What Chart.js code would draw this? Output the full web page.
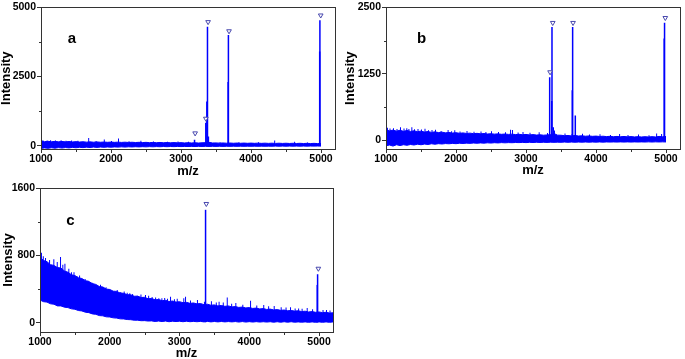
<!DOCTYPE html>
<html><head><meta charset="utf-8">
<script src="https://cdn.jsdelivr.net/npm/chart.js@4.4.0/dist/chart.umd.min.js"></script>
<style>
html,body{margin:0;padding:0;background:#fff;}
#wrap{position:relative;width:685px;height:359px;overflow:hidden;background:#fff;}
canvas{position:absolute;}
</style></head><body>
<div id="wrap">
<canvas id="ca" width="340" height="180" style="left:0;top:0"></canvas>
<canvas id="cb" width="345" height="180" style="left:340px;top:0"></canvas>
<canvas id="cc" width="340" height="179" style="left:0;top:180px"></canvas>
</div>
<script>
// ---- m/z sampling of the noise band ----
const mzAB = [1000,1050,1100,1150,1200,1250,1300,1350,1400,1450,
  1500,1550,1600,1650,1700,1750,1800,1850,1900,1950,
  2000,2050,2100,2150,2200,2250,2300,2350,2400,2450,
  2500,2550,2600,2650,2700,2750,2800,2850,2900,2950,
  3000,3050,3100,3150,3200,3250,3300,3350,3400,3450,
  3500,3550,3600,3650,3700,3750,3800,3850,3900,3950,
  4000,4050,4100,4150,4200,4250,4300,4350,4400,4450,
  4500,4550,4600,4650,4700,4750,4800,4850,4900,4950,
  5000];
const mzC = [1000,1050,1100,1150,1200,1250,1300,1350,1400,1450,
  1500,1550,1600,1650,1700,1750,1800,1850,1900,1950,
  2000,2050,2100,2150,2200,2250,2300,2350,2400,2450,
  2500,2550,2600,2650,2700,2750,2800,2850,2900,2950,
  3000,3050,3100,3150,3200,3250,3300,3350,3400,3450,
  3500,3550,3600,3650,3700,3750,3800,3850,3900,3950,
  4000,4050,4100,4150,4200,4250,4300,4350,4400,4450,
  4500,4550,4600,4650,4700,4750,4800,4850,4900,4950,
  5000,5050,5100,5150,5200];

// ---- panel a ----
const upperA = [160,145,158,142,155,140,152,138,150,136,
  146,132,142,128,138,126,135,124,132,122,
  130,120,128,118,126,116,124,114,122,112,
  120,110,118,108,116,106,114,104,112,102,
  110,100,108,98,106,96,104,110,120,98,
  100,92,98,90,96,88,95,87,94,86,
  93,85,92,84,91,83,90,82,89,81,
  88,80,87,79,86,78,85,77,84,76,
  80];
const lowerA = [-100,-80,-95,-75,-90,-70,-85,-68,-80,-62,
  -75,-60,-70,-55,-66,-52,-62,-50,-58,-48,
  -55,-45,-52,-42,-50,-40,-46,-38,-44,-36,
  -42,-34,-40,-32,-38,-30,-36,-30,-34,-28,
  -32,-28,-30,-26,-30,-25,-28,-24,-28,-24,
  -26,-22,-26,-22,-25,-20,-24,-20,-23,-20,
  -22,-18,-22,-18,-21,-18,-20,-16,-20,-16,
  -19,-15,-18,-15,-18,-14,-17,-14,-16,-13,
  -15];
const spikeMzA  = [1020,1080,1130,1200,1280,1350,1430,1520,1674,1780,1897,2000,2100,2250,2420,2600,2800,2950,3100,3550,3820,4100,4331,4616,4800];
const spikeTopA = [200,190,200,185,195,180,185,175,280,170,220,165,260,160,175,150,145,150,140,125,120,120,190,140,115];
const peakMzA  = [3204, 3365, 3380, 3389, 3402, 3684, 3688, 4992, 4995];
const peakIntA = [210, 830, 1600, 4300, 330, 2300, 4000, 3400, 4530];
const markMzA  = [3202, 3355, 3387, 3686, 4996];
const markIntA = [450, 980, 4470, 4140, 4710];

// ---- panel b ----
const upperB = [200,180,195,175,192,172,188,170,182,165,
  175,158,168,152,162,148,156,143,150,140,
  146,135,142,132,138,128,134,125,130,122,
  127,119,124,116,121,114,119,111,116,108,
  113,105,110,102,107,99,104,110,130,100,
  98,90,94,86,95,84,88,80,85,78,
  82,75,80,73,78,71,76,70,75,68,
  73,67,72,66,71,66,72,67,76,70,
  75];
const lowerB = [-100,-85,-105,-80,-95,-80,-90,-75,-85,-70,
  -80,-68,-75,-62,-70,-60,-66,-58,-62,-55,
  -60,-52,-56,-50,-54,-48,-52,-46,-50,-44,
  -48,-42,-46,-40,-44,-40,-42,-38,-40,-36,
  -40,-35,-38,-34,-37,-33,-36,-32,-35,-32,
  -34,-30,-34,-30,-33,-30,-32,-29,-32,-29,
  -31,-28,-31,-28,-30,-28,-30,-27,-30,-27,
  -30,-27,-29,-27,-29,-26,-29,-26,-28,-26,
  -28];
const spikeMzB  = [1014,1050,1100,1150,1200,1250,1290,1320,1362,1400,
  1450,1500,1550,1600,1650,1700,1780,1880,1930,1975,
  2050,2150,2250,2350,2420,2500,2600,2700,2772,2800,
  2880,2950,3050,3181,3300,3400,3550,3650,3800,3900,
  4050,4200,4330,4450,4600,4750,4859,4930];
const spikeTopB = [240,225,230,215,246,225,230,215,250,210,
  215,205,220,190,195,200,180,195,175,190,
  170,180,165,170,160,175,160,155,200,195,
  150,160,145,155,140,185,130,120,125,110,
  115,105,120,105,110,100,130,120];
const peakMzB  = [3349, 3378, 3382, 3400, 3672, 3677, 3715, 4985, 4990];
const peakIntB = [1185, 740, 2130, 250, 944, 2130, 470, 1913, 2210];
const markMzB  = [3344, 3382, 3672, 4990];
const markIntB = [1283, 2209, 2209, 2302];

// ---- panel c ----
const upperC = [780,740,725,690,680,655,650,615,600,570,
  560,535,525,500,490,465,455,430,425,400,
  395,375,372,352,350,333,332,315,315,300,
  302,285,288,272,276,262,266,252,258,245,
  250,238,242,230,235,224,228,215,220,208,
  212,200,205,195,200,188,192,182,186,176,
  180,170,174,164,168,158,162,152,156,147,
  151,142,146,138,142,133,137,128,132,124,
  128,120,124,115,118];
const lowerC = [270,250,245,225,220,200,200,185,180,165,
  160,145,140,125,120,105,100,85,82,70,
  68,58,55,46,45,38,36,30,30,24,
  25,20,22,15,20,14,20,12,18,14,
  18,12,18,12,16,12,16,10,16,10,
  15,10,15,10,14,10,14,8,14,8,
  13,8,13,8,12,8,12,6,12,6,
  12,6,12,6,10,6,10,5,10,5,
  10,5,10,5,10];
const spikeMzC  = [1014,1040,1072,1130,1191,1240,1287,1320,1350,1406,
  1444,1480,1526,1560,1597,1640,1680,1741,1813,1860,
  1908,1940,1980,2051,2100,2150,2200,2243,2280,2320,
  2386,2440,2505,2550,2600,2650,2696,2740,2780,2820,
  2864,2920,2960,3054,3079,3150,3250,3350,3450,3520,
  3560,3620,3677,3740,3800,3900,4011,4100,4200,4270,
  4350,4450,4520,4584,4650,4700,4750,4823,4900,5050,
  5100,5150];
const spikeTopC = [830,790,770,745,755,720,780,690,700,640,
  600,600,550,560,520,520,500,476,440,450,
  410,420,400,370,390,365,370,357,350,340,
  321,335,330,320,305,300,290,290,295,285,
  309,280,285,290,309,265,270,250,255,240,
  250,240,300,225,235,215,262,205,210,195,
  200,185,180,185,170,170,165,175,160,150,
  150,145];
const spikeLowC = [400,400,380,370,350,340,330,320,320,300,
  290,280,270,260,250,240,230,220,200,190,
  180,175,170,160,155,150,145,140,135,130,
  120,115,110,105,100,100,100,95,90,90,
  90,90,90,80,80,80,80,75,70,70,
  70,70,70,65,60,60,60,55,50,50,
  50,50,50,50,45,40,40,40,40,40,
  40,40];
const peakMzC  = [3384, 4985, 4990];
const peakIntC = [1341, 449, 576];
const markMzC  = [3384, 4990];
const markIntC = [1412, 643];

// ---- tick labels ----
const xTicks = [1000, 2000, 3000, 4000, 5000];
const xMinor = [1500, 2500, 3500, 4500];
const yTicksA = [0, 2500, 5000];   const yMinorA = [1250, 3750];
const yTicksB = [0, 1250, 2500];   const yMinorB = [625, 1875];
const yTicksC = [0, 800, 1600];    const yMinorC = [400, 1200];

const BLUE = 'rgb(0,0,255)';
const MARK = '#4848ae';
const FONT = '"Liberation Sans", Arial, sans-serif';

function pts(xs, ys) { return xs.map((x, i) => ({x: x, y: ys[i]})); }
function spans(xs, lo, hi) { return xs.map((x, i) => ({x: x, y: [lo ? lo[i] : 0, hi[i]]})); }

const decor = {
  id: 'decor',
  afterDraw(chart, args, o) {
    const ctx = chart.ctx, a = chart.chartArea, sx = chart.scales.x, sy = chart.scales.y;
    ctx.save();
    ctx.strokeStyle = '#333'; ctx.lineWidth = 1;
    const L = Math.round(a.left) + 0.5, T = Math.round(a.top) + 0.5;
    const R = Math.round(a.right) + 0.5, B = Math.round(a.bottom) + 0.5;
    ctx.strokeRect(L, T, R - L, B - T);
    ctx.beginPath();
    o.minorX.forEach(v => { const p = Math.round(sx.getPixelForValue(v)) + 0.5; ctx.moveTo(p, B); ctx.lineTo(p, B + 2.5); });
    o.minorY.forEach(v => { const p = Math.round(sy.getPixelForValue(v)) + 0.5; ctx.moveTo(L, p); ctx.lineTo(L - 2.5, p); });
    ctx.stroke();
    ctx.fillStyle = '#000';
    ctx.font = 'bold 15px ' + FONT;
    ctx.textAlign = 'center'; ctx.textBaseline = 'middle';
    ctx.fillText(o.letter, o.letterX, o.letterY);
    ctx.restore();
  }
};

function makePanel(id, o) {
  new Chart(document.getElementById(id), {
    type: 'line',
    data: { datasets: [
      { data: pts(o.mz, o.lower), borderColor: BLUE, borderWidth: 1, pointRadius: 0, fill: false, tension: 0, order: 4 },
      { data: pts(o.mz, o.upper), borderColor: BLUE, backgroundColor: BLUE, borderWidth: 1, pointRadius: 0, fill: '-1', tension: 0, order: 3 },
      { type: 'bar', data: spans(o.spikeMz, o.spikeLow, o.spikeTop), backgroundColor: BLUE, borderWidth: 0, barThickness: 1, inflateAmount: 0, order: 2 },
      { type: 'bar', data: pts(o.peakMz, o.peakInt), backgroundColor: BLUE, borderWidth: 0, barThickness: 1.5, inflateAmount: 0, order: 1 },
      { data: pts(o.markMz, o.markInt), showLine: false, fill: false, pointStyle: 'triangle', pointRotation: 180,
        pointRadius: 2.7, pointBorderWidth: 1, pointBorderColor: MARK, pointBackgroundColor: '#fff', order: 0 }
    ]},
    options: {
      responsive: false, animation: false, devicePixelRatio: 1,
      layout: { padding: { left: 0, top: o.padTop, right: o.padRight, bottom: 0 } },
      plugins: { legend: { display: false }, tooltip: { enabled: false },
        decor: { minorX: xMinor, minorY: o.yMinor, letter: o.letter, letterX: o.letterX, letterY: o.letterY } },
      scales: {
        x: {
          type: 'linear', min: 1000, max: o.xMax, offset: false,
          afterBuildTicks: s => { s.ticks = xTicks.map(v => ({value: v})); },
          afterFit: s => { s.height = o.xH; },
          grid: { display: true, drawOnChartArea: false, drawTicks: true, tickLength: 4, color: '#333', offset: false },
          border: { display: false },
          ticks: { padding: 0, color: '#000', maxRotation: 0, autoSkip: false,
            font: { family: FONT, size: 10.5, weight: 'bold' }, callback: v => String(v) },
          title: { display: true, text: 'm/z', color: '#000', padding: { top: 0, bottom: o.xTitlePad },
            font: { family: FONT, size: 13, weight: 'bold', lineHeight: 1 } }
        },
        y: {
          type: 'linear', min: o.yMin, max: o.yMax,
          afterBuildTicks: s => { s.ticks = o.yTicks.map(v => ({value: v})); },
          afterFit: s => { s.width = o.yW; },
          grid: { display: true, drawOnChartArea: false, drawTicks: true, tickLength: 4, color: '#333' },
          border: { display: false },
          ticks: { padding: 1, color: '#000', autoSkip: false,
            font: { family: FONT, size: 10.5, weight: 'bold' }, callback: v => String(v) },
          title: { display: true, text: 'Intensity', color: '#000', padding: { top: o.yTitlePad, bottom: 0 },
            font: { family: FONT, size: 13, weight: 'bold', lineHeight: 1 } }
        }
      }
    },
    plugins: [decor]
  });
}

makePanel('ca', { mz: mzAB, upper: upperA, lower: lowerA, spikeMz: spikeMzA, spikeTop: spikeTopA, spikeLow: null,
  peakMz: peakMzA, peakInt: peakIntA,
  markMz: markMzA, markInt: markIntA, yTicks: yTicksA, yMinor: yMinorA, yMin: -120, yMax: 5000, xMax: 5200,
  padTop: 5, padRight: 4, yW: 41, xH: 31, xTitlePad: 1.8, yTitlePad: 0,
  letter: 'a', letterX: 72, letterY: 39 });
makePanel('cb', { mz: mzAB, upper: upperB, lower: lowerB, spikeMz: spikeMzB, spikeTop: spikeTopB, spikeLow: null,
  peakMz: peakMzB, peakInt: peakIntB,
  markMz: markMzB, markInt: markIntB, yTicks: yTicksB, yMinor: yMinorB, yMin: -160, yMax: 2500, xMax: 5200,
  padTop: 5, padRight: 2, yW: 46, xH: 31, xTitlePad: 3.5, yTitlePad: 4,
  letter: 'b', letterX: 81.5, letterY: 39 });
makePanel('cc', { mz: mzC, upper: upperC, lower: lowerC, spikeMz: spikeMzC, spikeTop: spikeTopC, spikeLow: spikeLowC,
  peakMz: peakMzC, peakInt: peakIntC,
  markMz: markMzC, markInt: markIntC, yTicks: yTicksC, yMinor: yMinorC, yMin: -110, yMax: 1600, xMax: 5200,
  padTop: 8, padRight: 7, yW: 40, xH: 27, xTitlePad: -1, yTitlePad: 2,
  letter: 'c', letterX: 70.3, letterY: 41 });
</script>
</body></html>
